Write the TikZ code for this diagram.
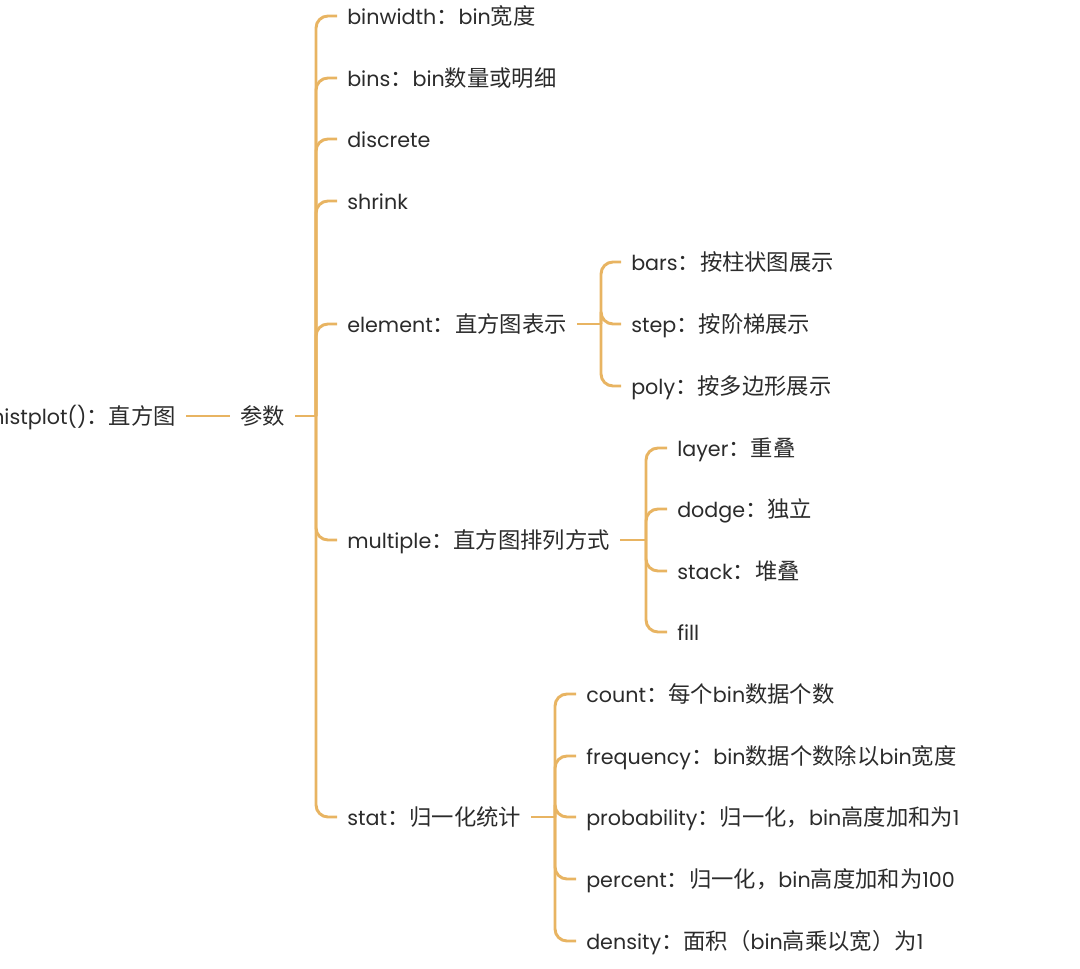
\documentclass[tikz,border=0pt]{standalone}
\usepackage{fontspec}
\setmainfont{Poppins}
\newfontfamily\cjk[Scale=1.08]{Noto Sans CJK SC}
\newcommand\zh[1]{{\cjk #1}}
\definecolor{branch}{HTML}{E8B462}
\definecolor{txt}{HTML}{2B2B2B}
\begin{document}
\begin{tikzpicture}[x=0.75pt,y=-0.75pt,
 lbl/.style={inner xsep=7.5pt, inner ysep=0pt, text height=12.3pt, text depth=0pt, font=\fontsize{15.5}{18}\selectfont, text=txt},
 conn/.style={draw=branch, line width=2.2pt},
 br/.style={conn, rounded corners=9pt}]
\useasboundingbox (0,0) rectangle (1080,969);
\clip (0,0) rectangle (1080,969);

\node[lbl, anchor=east] (root) at (186,416) {histplot()\zh{：直方图}};
\node[lbl, anchor=west] (param) at (230,416) {\zh{参数}};
\coordinate (j0) at (316,416);

\node[lbl, anchor=west] (bw) at (337,16) {binwidth\zh{：}bin\zh{宽度}};
\node[lbl, anchor=west] (bins) at (337,78) {bins\zh{：}bin\zh{数量或明细}};
\node[lbl, anchor=west] (disc) at (337,139) {discrete};
\node[lbl, anchor=west] (shrink) at (337,201) {shrink};
\node[lbl, anchor=west] (elem) at (337,324) {element\zh{：直方图表示}};
\node[lbl, anchor=west] (mult) at (337,540) {multiple\zh{：直方图排列方式}};
\node[lbl, anchor=west] (stat) at (337,817) {stat\zh{：归一化统计}};

\coordinate (j1) at (601,324);
\node[lbl, anchor=west] (bars) at (621,262) {bars\zh{：按柱状图展示}};
\node[lbl, anchor=west] (stepn) at (621,324) {step\zh{：按阶梯展示}};
\node[lbl, anchor=west] (poly) at (621,386) {poly\zh{：按多边形展示}};

\coordinate (j2) at (646,540);
\node[lbl, anchor=west] (layer) at (667,448) {layer\zh{：重叠}};
\node[lbl, anchor=west] (dodge) at (667,509) {dodge\zh{：独立}};
\node[lbl, anchor=west] (stack) at (667,571) {stack\zh{：堆叠}};
\node[lbl, anchor=west] (fill) at (667,632) {fill};

\coordinate (j3) at (555,817);
\node[lbl, anchor=west] (count) at (576,694) {count\zh{：每个}bin\zh{数据个数}};
\node[lbl, anchor=west] (freq) at (576,756) {frequency\zh{：}bin\zh{数据个数除以}bin\zh{宽度}};
\node[lbl, anchor=west] (prob) at (576,817) {probability\zh{：归一化，}bin\zh{高度加和为}1};
\node[lbl, anchor=west] (perc) at (576,879) {percent\zh{：归一化，}bin\zh{高度加和为}100};
\node[lbl, anchor=west] (dens) at (576,941) {density\zh{：面积（}bin\zh{高乘以宽）为}1};

\draw[conn] (root.east) -- (param.west);
\draw[conn] (param.east) -- (j0);
\draw[conn] (elem.east) -- (j1);
\draw[conn] (mult.east) -- (j2);
\draw[conn] (stat.east) -- (j3);

\foreach \c in {bw,bins,disc,shrink,elem,mult,stat} \draw[br] (j0) |- (\c.west);
\foreach \c in {bars,stepn,poly} \draw[br] (j1) |- (\c.west);
\foreach \c in {layer,dodge,stack,fill} \draw[br] (j2) |- (\c.west);
\foreach \c in {count,freq,prob,perc,dens} \draw[br] (j3) |- (\c.west);
\end{tikzpicture}
\end{document}
